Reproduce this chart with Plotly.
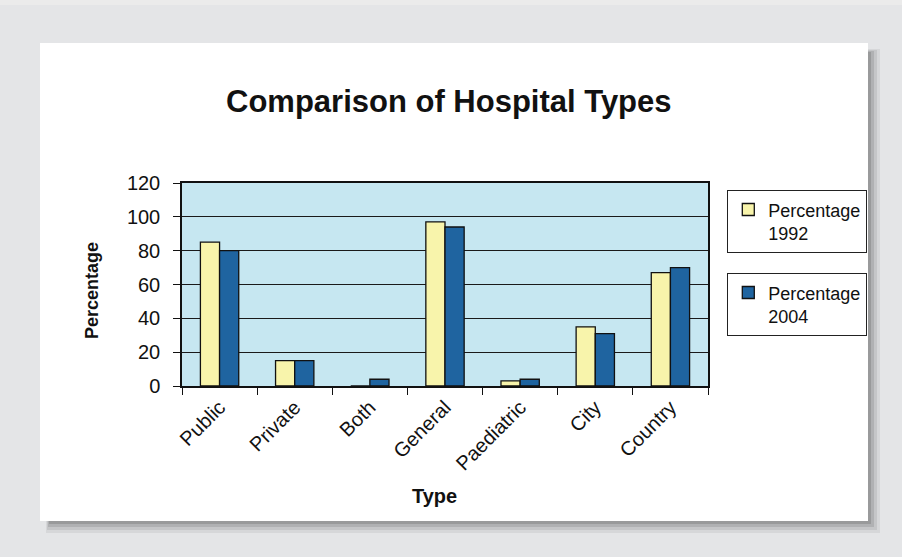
import plotly.graph_objects as go

categories = ["Public", "Private", "Both", "General", "Paediatric", "City", "Country"]
pct_1992 = [85, 15, 0, 97, 3, 35, 67]
pct_2004 = [80, 15, 4, 94, 4, 31, 70]
y_ticks = [0, 20, 40, 60, 80, 100, 120]

W, H = 902, 557
L, R, T, B = 182, 708, 183, 386  # plot area in pixels


def px(x):
    return (x - L) / (R - L)


def py(y):
    return (B - y) / (B - T)


fig = go.Figure()
fig.add_trace(go.Bar(
    x=categories, y=pct_1992, name="Percentage<br>1992", legend="legend",
    marker=dict(color="#f8f4ab", line=dict(color="#111111", width=1.3)),
))
fig.add_trace(go.Bar(
    x=categories, y=pct_2004, name="Percentage<br>2004", legend="legend2",
    marker=dict(color="#1f64a0", line=dict(color="#111111", width=1.3)),
))

shapes = []
# top lighter strip of page background
shapes.append(dict(type="rect", xref="paper", yref="paper", layer="below",
                   x0=px(0), x1=px(W), y0=py(0), y1=py(5),
                   fillcolor="#ebebeb", line=dict(width=0)))
# card shadow
for i, op in enumerate([0.06, 0.08, 0.10, 0.13]):
    d = 12 - i * 3
    shapes.append(dict(type="rect", xref="paper", yref="paper", layer="below",
                       x0=px(46 + i), x1=px(868 + d), y0=py(49 + i), y1=py(521 + d),
                       fillcolor=f"rgba(0,0,0,{op})", line=dict(width=0)))
# white card
shapes.append(dict(type="rect", xref="paper", yref="paper", layer="below",
                   x0=px(40), x1=px(868), y0=py(43), y1=py(521),
                   fillcolor="white", line=dict(width=0)))
# plot area background
shapes.append(dict(type="rect", xref="paper", yref="paper", layer="below",
                   x0=0, x1=1, y0=0, y1=1,
                   fillcolor="#c6e7f1", line=dict(width=0)))

annotations = [
    dict(text="<b>Comparison of Hospital Types</b>", xref="paper", yref="paper",
         x=px(449), y=py(101), xanchor="center", yanchor="middle", showarrow=False,
         font=dict(family="Liberation Sans, Arial", size=31, color="#111111")),
    dict(text="<b>Percentage</b>", xref="paper", yref="paper",
         x=px(92), y=py(291), xanchor="center", yanchor="middle", showarrow=False,
         textangle=-90,
         font=dict(family="Liberation Sans, Arial", size=18, color="#111111")),
    dict(text="<b>Type</b>", xref="paper", yref="paper",
         x=px(434), y=py(496), xanchor="center", yanchor="middle", showarrow=False,
         font=dict(family="Liberation Sans, Arial", size=20, color="#111111")),
]

legend_common = dict(
    xanchor="left", yanchor="top", bgcolor="white", bordercolor="#222222",
    borderwidth=1.3, font=dict(family="Liberation Sans, Arial", size=18, color="#111111"),
    valign="top", itemwidth=30, tracegroupgap=0,
)

fig.update_layout(
    width=W, height=H,
    margin=dict(l=L, r=W - R, t=T, b=H - B, pad=0),
    paper_bgcolor="#e4e5e7",
    plot_bgcolor="rgba(0,0,0,0)",
    barmode="group", bargap=0.49, bargroupgap=0,
    showlegend=True,
    legend=dict(x=px(727), y=py(190), **legend_common),
    legend2=dict(x=px(727), y=py(273), **legend_common),
    shapes=shapes,
    annotations=annotations,
    font=dict(family="Liberation Sans, Arial", color="#111111"),
)

fig.update_xaxes(
    type="category", tickson="boundaries", ticks="outside", ticklen=7,
    tickcolor="#111111", tickwidth=1.3, tickangle=-45,
    tickfont=dict(size=20, color="#111111"),
    showline=True, linecolor="#111111", linewidth=1.5, mirror=True,
    showgrid=False, fixedrange=True,
)
fig.update_yaxes(
    range=[0, 120], tickvals=y_ticks, ticktext=[str(v) for v in y_ticks],
    ticks="outside", ticklen=7, tickcolor="#111111", tickwidth=1.3,
    tickfont=dict(size=20, color="#111111"), ticklabelstandoff=9,
    showline=True, linecolor="#111111", linewidth=1.5, mirror=True,
    showgrid=True, gridcolor="#1a1a1a", gridwidth=1.4, zeroline=False,
    fixedrange=True,
)

fig.write_html(
    "out.html",
    config={"displayModeBar": False},
    post_script="document.body.style.margin='0';document.body.style.padding='0';",
)
